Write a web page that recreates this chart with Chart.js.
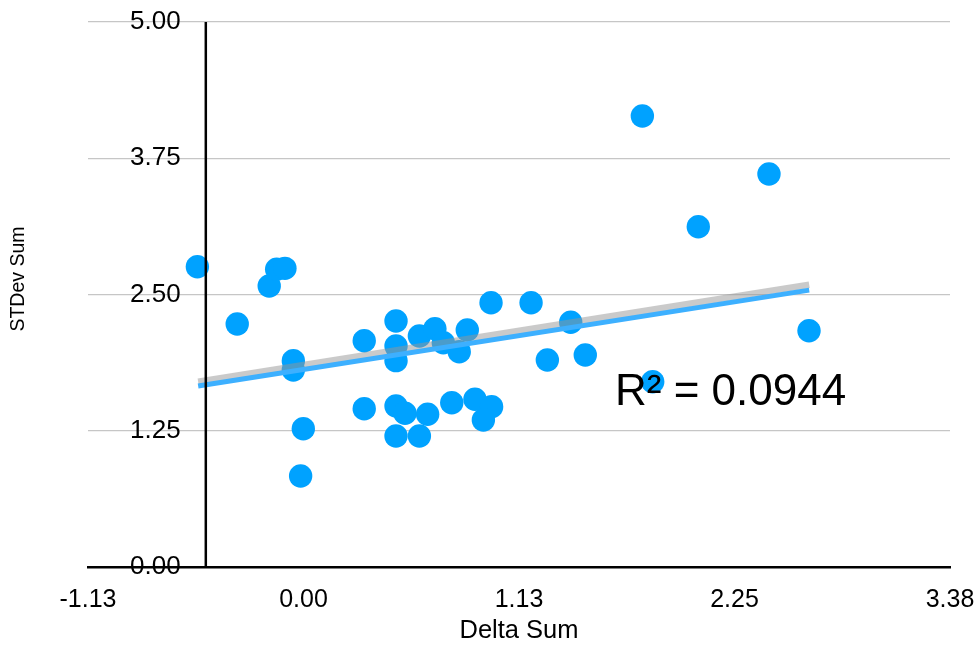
<!DOCTYPE html>
<html>
<head>
<meta charset="utf-8">
<script src="https://cdn.jsdelivr.net/npm/chart.js@4/dist/chart.umd.min.js"></script>
<style>
    html, body { margin: 0; padding: 0; background: #ffffff; }
    #chartcontainer { width: 975px; height: 646px; }
</style>
</head>
<body>
<div id="chartcontainer"><canvas id="scatter-1" width="975" height="646"></canvas></div>
<script>
    // values
    var deltaSum = [-0.554, -0.346, -0.179, -0.140, -0.097, -0.053, -0.053, -0.001, -0.015, 0.317,
        0.317, 0.483, 0.483, 0.483, 0.483, 0.530, 0.483, 0.605, 0.686, 0.730,
        0.813, 0.855, 0.648, 0.605, 0.774, 0.895, 0.982, 0.939, 0.979, 1.769,
        2.430, 2.061, 1.188, 1.395, 1.273, 1.471, 2.639, 1.823];
    var stdevSum = [2.755, 2.229, 2.578, 2.731, 2.740, 1.893, 1.807, 1.269, 0.835, 2.076,
        1.452, 2.257, 2.028, 1.893, 1.477, 1.410, 1.202, 2.119, 2.186, 2.058,
        1.975, 2.174, 1.401, 1.202, 1.507, 1.539, 1.471, 1.349, 2.425, 4.138,
        3.606, 3.122, 2.425, 2.245, 1.899, 1.945, 2.168, 1.700];

    var trendX = [-0.55, 2.64];
    var trendY = [1.66, 2.54];
    var shadowY = [1.70, 2.59];

    var xTicks = [-1.125, 0, 1.125, 2.25, 3.375];
    var yTicks = [0, 1.25, 2.5, 3.75, 5];
    var crossX = -0.51;
    var r2Text = 'R\u00B2 = 0.0944';
    var yTitle = 'STDev Sum';

    var fontFamily = '"Helvetica Neue", Helvetica, "Liberation Sans", Arial, sans-serif';

    function toPoints(xs, ys) {
        var pts = [];
        for (var i = 0; i < xs.length; i++) {
            pts.push({ x: xs[i], y: ys[i] });
        }
        return pts;
    }

    // vertical axis line, y title and the R² label
    var extrasPlugin = {
        id: 'extras',
        afterDatasetsDraw: function (chart) {
            var ctx = chart.ctx;
            var xs = chart.scales.x;
            var ys = chart.scales.y;
            ctx.save();
            ctx.strokeStyle = '#000000';
            ctx.lineWidth = 2.5;
            ctx.beginPath();
            var px = xs.getPixelForValue(crossX);
            ctx.moveTo(px, ys.getPixelForValue(yTicks[yTicks.length - 1]));
            ctx.lineTo(px, ys.getPixelForValue(0));
            ctx.stroke();

            ctx.fillStyle = '#000000';
            ctx.font = '44px ' + fontFamily;
            ctx.textAlign = 'left';
            ctx.textBaseline = 'alphabetic';
            ctx.fillText(r2Text, chart.chartArea.left + 527, 405);

            ctx.translate(19, 279);
            ctx.rotate(-Math.PI / 2);
            ctx.font = '19.5px ' + fontFamily;
            ctx.textAlign = 'center';
            ctx.textBaseline = 'middle';
            ctx.fillText(yTitle, 0, 0);
            ctx.restore();
        }
    };

    var ctx = document.getElementById('scatter-1').getContext('2d');
    new Chart(ctx, {
        type: 'scatter',
        data: {
            datasets: [{
                type: 'line',
                data: toPoints(trendX, trendY),
                borderColor: '#3db0ff',
                borderWidth: 5,
                pointRadius: 0,
                fill: false,
                order: 0
            }, {
                type: 'line',
                data: toPoints(trendX, shadowY),
                borderColor: 'rgba(150, 150, 150, 0.5)',
                borderWidth: 6.5,
                pointRadius: 0,
                fill: false,
                order: 1
            }, {
                data: toPoints(deltaSum, stdevSum),
                backgroundColor: '#00a2ff',
                borderWidth: 0,
                pointRadius: 11.7,
                pointHoverRadius: 11.7,
                order: 2
            }]
        },
        options: {
            responsive: false,
            animation: false,
            layout: {
                padding: { left: 0, top: 22, right: 25, bottom: 0 }
            },
            plugins: {
                legend: { display: false },
                tooltip: { enabled: false }
            },
            scales: {
                x: {
                    type: 'linear',
                    min: xTicks[0],
                    max: xTicks[xTicks.length - 1],
                    afterBuildTicks: function (scale) {
                        scale.ticks = xTicks.map(function (v) { return { value: v }; });
                    },
                    afterFit: function (scale) {
                        scale.height = 79;
                        scale.paddingLeft = 0;
                        scale.paddingRight = 0;
                    },
                    grid: { display: false, drawTicks: false },
                    border: { display: true, color: '#000000', width: 2.5 },
                    ticks: {
                        color: '#000000',
                        padding: 18,
                        maxRotation: 0,
                        font: { family: fontFamily, size: 25 },
                        callback: function (v) { return Number(v).toFixed(2); }
                    },
                    title: {
                        display: true,
                        text: 'Delta Sum',
                        color: '#000000',
                        padding: { top: 0, bottom: 0 },
                        font: { family: fontFamily, size: 25.5 }
                    }
                },
                y: {
                    type: 'linear',
                    min: yTicks[0],
                    max: yTicks[yTicks.length - 1],
                    afterBuildTicks: function (scale) {
                        scale.ticks = yTicks.map(function (v) { return { value: v }; });
                    },
                    afterFit: function (scale) {
                        scale.width = 88;
                        scale.paddingTop = 0;
                        scale.paddingBottom = 0;
                    },
                    grid: { color: '#c6c6c6', lineWidth: 1.2, drawTicks: false },
                    border: { display: false },
                    ticks: {
                        mirror: true,
                        padding: 42,
                        color: '#000000',
                        font: { family: fontFamily, size: 26 },
                        callback: function (v) { return Number(v).toFixed(2); }
                    },
                    title: { display: false }
                }
            }
        },
        plugins: [extrasPlugin]
    });
</script>
</body>
</html>
